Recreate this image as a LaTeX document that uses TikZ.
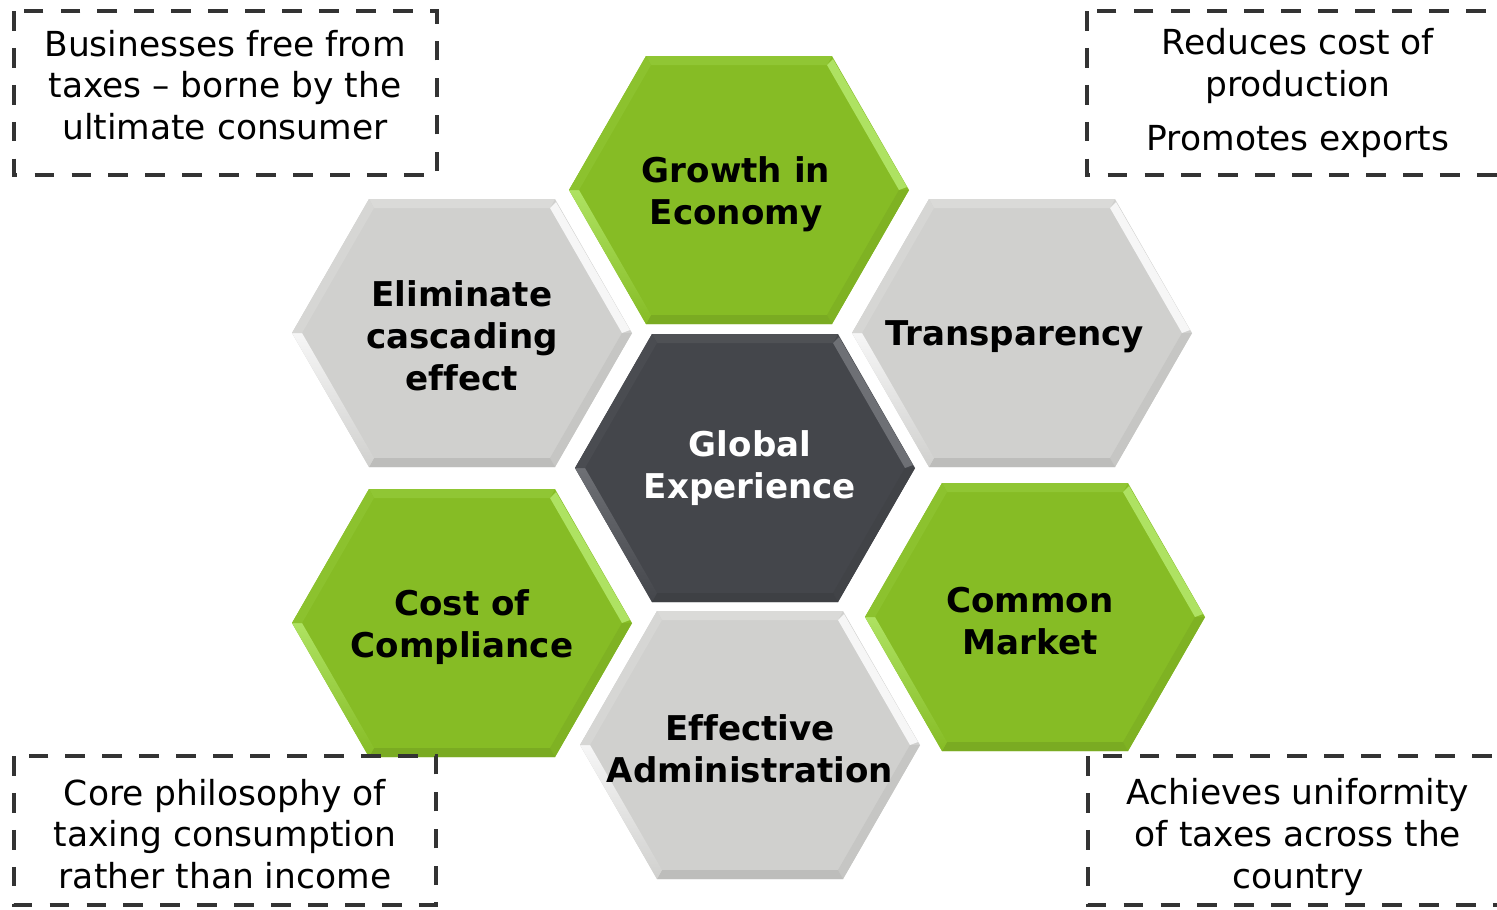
\documentclass[tikz,border=0pt]{standalone}
\usepackage{fontspec}
\setmainfont{DejaVu Sans}[Ligatures={TeX,NoCommon}]
\usepackage{xcolor}
\usepackage{tikz}

\definecolor{vatgreen}{HTML}{86BC25}
\definecolor{vatgreenhi}{HTML}{AEE262}
\definecolor{vatgray}{HTML}{D0D0CE}
\definecolor{vatgrayhi}{HTML}{F6F6F6}
\definecolor{vatdark}{HTML}{44464B}
\definecolor{vatdarkhi}{HTML}{6E7075}
\definecolor{boxline}{HTML}{333333}

% bevelled hexagon around a named centre: #1 centre, #2 face, #3 light edge
\newcommand{\bevelhex}[3]{%
  \begin{scope}[shift={(#1)}]
    \fill[#2] (-170,0) -- (-93,-134) -- (93,-134) -- (170,0) -- (93,134) -- (-93,134) -- cycle;
    \fill[#3!25!#2] (-93,-134) -- (93,-134) -- (88,-125) -- (-88,-125) -- cycle;
    \fill[#3] (94,-131) -- (168,-3) -- (160,0) -- (88,-125) -- cycle;
    \fill[black!5!#2] (170,0) -- (93,134) -- (88,125) -- (160,0) -- cycle;
    \fill[black!9!#2] (93,134) -- (-93,134) -- (-88,125) -- (88,125) -- cycle;
    \shade[top color=#3, bottom color=#2] (-93,134) -- (-170,0) -- (-160,0) -- (-88,125) -- cycle;
    \fill[#3!15!#2] (-170,0) -- (-93,-134) -- (-88,-125) -- (-160,0) -- cycle;
  \end{scope}}

\begin{document}
\begin{tikzpicture}[x=0.01cm, y=-0.01cm,
    hexlabel/.style={align=center, inner sep=0pt, font=\fontsize{9.7}{11.9}\selectfont\bfseries},
    notebox/.style={boxline, line width=1.25pt, dash pattern=on 5.6pt off 4.9pt},
    notetext/.style={align=center, inner sep=0pt, font=\fontsize{9.8}{11.9}\selectfont}]
    \useasboundingbox (0,0) rectangle (1497,909);

    \coordinate (G) at (739,190);
    \coordinate (E) at (462,333);
    \coordinate (T) at (1022,333);
    \coordinate (X) at (745,468);
    \coordinate (C) at (462,623);
    \coordinate (M) at (1035,617);
    \coordinate (A) at (750,745);

    \bevelhex{G}{vatgreen}{vatgreenhi}
    \bevelhex{E}{vatgray}{vatgrayhi}
    \bevelhex{T}{vatgray}{vatgrayhi}
    \bevelhex{X}{vatdark}{vatdarkhi}
    \bevelhex{C}{vatgreen}{vatgreenhi}
    \bevelhex{M}{vatgreen}{vatgreenhi}
    \bevelhex{A}{vatgray}{vatgrayhi}

    \node[hexlabel] (Gt) at (736,194) {Growth in\\Economy};
    \node[hexlabel] (Et) at (462,336) {Eliminate\\cascading\\effect};
    \node[hexlabel] (Tt) at (1015,337) {Transparency};
    \node[hexlabel, white] (Xt) at (750,468) {Global\\Experience};
    \node[hexlabel] (Ct) at (462,627) {Cost of\\Compliance};
    \node[hexlabel] (Mt) at (1030,621) {Common\\Market};
    \node[hexlabel] (At) at (750,749) {Effective\\Administration};

    % dashed notes in the corners
    \draw[notebox] (14,11) rectangle (437,175);
    \draw[notebox] (1087,11) rectangle (1510,175);
    \draw[notebox] (14,756) rectangle (436,905);
    \draw[notebox] (1088,756) rectangle (1510,905);

    \node[notetext] (n1) at (225,85) {Businesses free from\\taxes – borne by the\\ultimate consumer};
    \node[notetext] (n2) at (1298,93) {Reduces cost of\\production\\[3.4pt]Promotes exports};
    \node[notetext] (n3) at (225,834) {Core philosophy of\\taxing consumption\\rather than income};
    \node[notetext] (n4) at (1298,837) {Achieves uniformity\\of taxes across the\\country};
\end{tikzpicture}
\end{document}
